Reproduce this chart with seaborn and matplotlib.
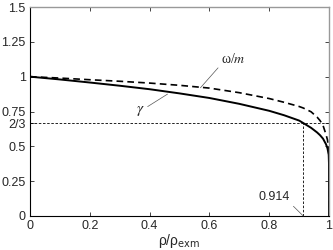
import numpy as np
import pandas as pd
import matplotlib
matplotlib.use("Agg")
import matplotlib.pyplot as plt
import seaborn as sns

# valores
rho = [0, 0.1, 0.2, 0.3, 0.4, 0.5, 0.6, 0.7, 0.8, 0.85, 0.9, 0.914,
       0.94, 0.96, 0.97, 0.98, 0.99, 0.995, 0.999, 0.9999, 1.0]
gamma = [1.0, 0.98, 0.958, 0.935, 0.91, 0.88, 0.847, 0.805, 0.755, 0.723,
         0.685, 0.667, 0.633, 0.60, 0.58, 0.555, 0.515, 0.485, 0.44, 0.38, 0.0]
omega_m = [1.0, 0.99, 0.978, 0.967, 0.954, 0.938, 0.918, 0.885, 0.843, 0.816,
           0.786, 0.775, 0.748, 0.71, 0.685, 0.65, 0.585, 0.545, 0.47, 0.40, 0.0]

rho_star = 0.914
g_star = 2 / 3

yticks = [0, 0.25, 0.5, 2 / 3, 0.75, 1, 1.25, 1.5]
ylabels = ["0", "0.25", "0.5", "2/3", "0.75", "1", "1.25", "1.5"]
xticks = [0, 0.2, 0.4, 0.6, 0.8, 1]
xlabels = ["0", "0.2", "0.4", "0.6", "0.8", "1"]

df = pd.DataFrame({"rho": rho, "gamma": gamma, "omega_m": omega_m})

sns.set_style("ticks")
plt.rcParams["font.family"] = ["Liberation Sans", "DejaVu Sans"]

fig = plt.figure(figsize=(3.33, 2.5), dpi=100)
ax = fig.add_axes([0.09, 0.136, 0.898, 0.836])

sns.lineplot(data=df, x="rho", y="omega_m", ax=ax, color="black",
             lw=1.2, linestyle=(0, (4, 2.5)))
sns.lineplot(data=df, x="rho", y="gamma", ax=ax, color="black", lw=1.4)

# linhas guia
ax.plot([0, 1], [g_star, g_star], color="black", lw=0.6, ls=(0, (3, 2)))
ax.plot([rho_star, rho_star], [0, g_star], color="black", lw=0.6, ls=(0, (3, 2)))

ax.set_xlim(0, 1)
ax.set_ylim(0, 1.5)
ax.set_xticks(xticks)
ax.set_xticklabels(xlabels, fontsize=9)
ax.set_yticks(yticks)
ax.set_yticklabels(ylabels, fontsize=9)
ax.tick_params(direction="in", length=3, width=0.6, top=True, right=True, pad=3)
ax.set_xlabel("ρ/ρ$_{\\mathrm{exm}}$", fontsize=10, labelpad=0)
ax.set_ylabel("")

for s in ["left", "bottom"]:
    ax.spines[s].set_color("black")
    ax.spines[s].set_linewidth(0.8)
for s in ["top", "right"]:
    ax.spines[s].set_color("#999999")
    ax.spines[s].set_linewidth(1.0)

# anotações
ax.annotate("ω/$m$", xy=(0.57, 0.92), xytext=(0.64, 1.08),
            fontsize=10, family="Liberation Serif", math_fontfamily="stix",
            va="bottom", ha="left",
            arrowprops=dict(arrowstyle="-", color="#555555", lw=0.5,
                            shrinkA=0, shrinkB=0, relpos=(0, 0.1)))
ax.annotate("$\\gamma$", xy=(0.46, 0.875), xytext=(0.368, 0.70),
            fontsize=11, math_fontfamily="stix", va="bottom", ha="center",
            arrowprops=dict(arrowstyle="-", color="#555555", lw=0.5,
                            shrinkA=0, shrinkB=0, relpos=(1, 0.7)))
ax.annotate("0.914", xy=(rho_star, 0.0), xytext=(0.87, 0.093),
            fontsize=9, va="bottom", ha="right",
            arrowprops=dict(arrowstyle="-", color="#555555", lw=0.5,
                            shrinkA=0, shrinkB=0, relpos=(1, 0)))

fig.savefig("out.png", dpi=100)
